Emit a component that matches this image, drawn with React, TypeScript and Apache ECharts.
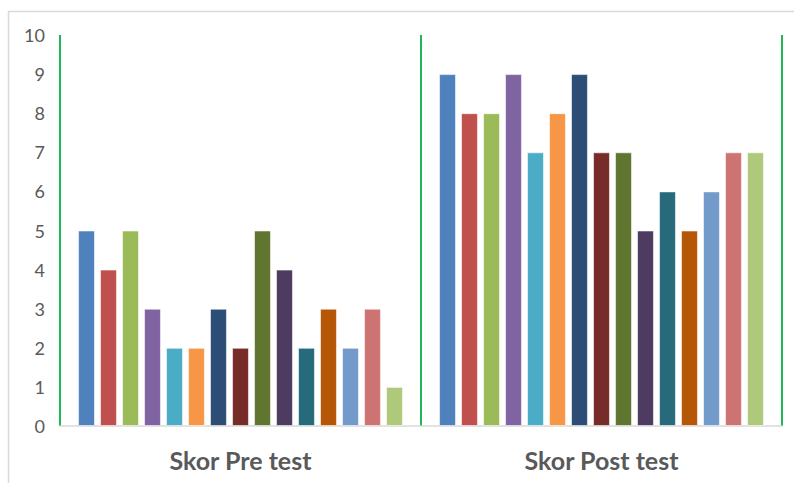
import React, { useEffect, useRef } from "react";
import * as echarts from "echarts";

const categories = ["Skor Pre test", "Skor Post test"];
const preValues = [5, 4, 5, 3, 2, 2, 3, 2, 5, 4, 2, 3, 2, 3, 1];
const postValues = [9, 8, 8, 9, 7, 8, 9, 7, 7, 5, 6, 5, 6, 7, 7];
const seriesColors = [
  "#4F81BD", "#C0504D", "#9BBB59", "#8064A2", "#4BACC6",
  "#F79646", "#2C4D75", "#772C2A", "#5F7530", "#4D3B62",
  "#276A7C", "#B65708", "#729ACA", "#CD7371", "#AFC97A",
];
const yTicks = [0, 1, 2, 3, 4, 5, 6, 7, 8, 9, 10];

export default function App() {
  const ref = useRef<HTMLDivElement>(null);
  useEffect(() => {
    document.body.style.margin = "0";
    if (!ref.current) return;
    const chart = echarts.init(ref.current, null, { renderer: "svg" });
    const series = preValues.map((v, i) => ({
      type: "bar" as const,
      name: "S" + (i + 1),
      data: [v, postValues[i]],
      barGap: "30%",
      barCategoryGap: "10%",
      itemStyle: {
        color: seriesColors[i],
        borderColor: "rgba(255,255,255,0.55)",
        borderWidth: 1,
      },
    }));
    chart.setOption({
      animation: false,
      textStyle: { fontFamily: "Lato" },
      graphic: [
        {
          type: "rect",
          shape: { x: 8.5, y: 11.5, width: 900, height: 600 },
          style: { fill: "none", stroke: "#D9D9D9", lineWidth: 1.5 },
          z: -1,
        },
      ],
      grid: { left: 60, right: 12, top: 35, bottom: 57 },
      xAxis: {
        type: "category",
        data: categories,
        boundaryGap: true,
        axisLine: { show: true, lineStyle: { color: "#D9D9D9", width: 1.5 } },
        axisTick: { show: false },
        splitLine: { show: true, lineStyle: { color: "#1DB954", width: 2 } },
        axisLabel: {
          margin: 21,
          fontSize: 25,
          fontWeight: "bold",
          color: "#595959",
          fontFamily: "Lato",
        },
      },
      yAxis: {
        type: "value",
        min: yTicks[0],
        max: yTicks[yTicks.length - 1],
        interval: 1,
        axisLine: { show: false },
        axisTick: { show: false },
        splitLine: { show: false },
        axisLabel: { fontSize: 18, color: "#595959", margin: 15, fontFamily: "Lato" },
      },
      series,
    });
    return () => chart.dispose();
  }, []);
  return <div ref={ref} style={{ width: 794, height: 483 }} />;
}
